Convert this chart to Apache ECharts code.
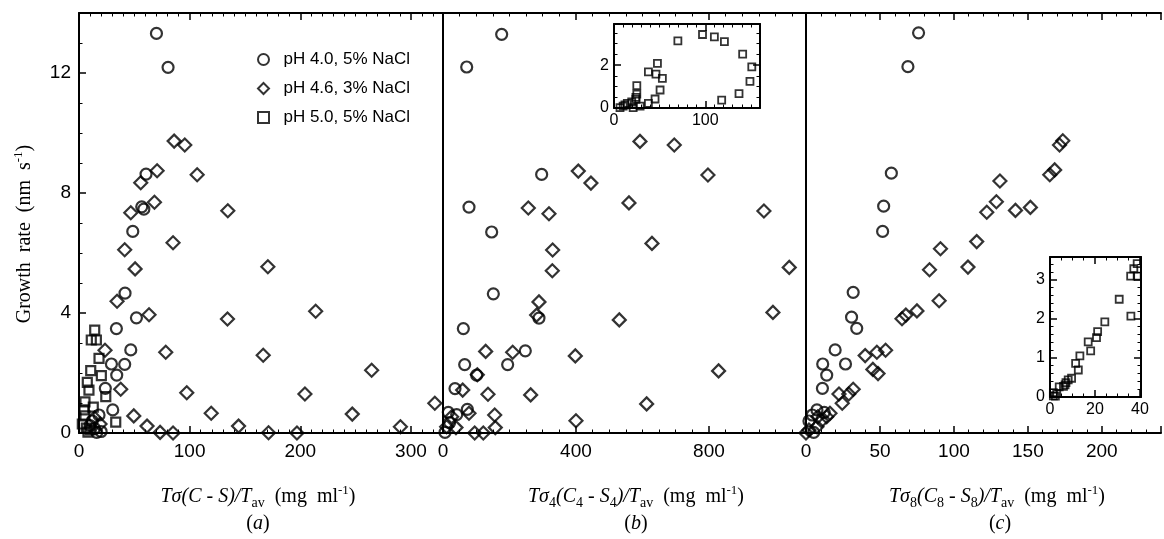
<!DOCTYPE html>
<html>
<head>
<meta charset="utf-8">
<script src="https://cdn.jsdelivr.net/npm/echarts@6/dist/echarts.min.js"></script>
<style>
html,body{margin:0;padding:0;background:#fff;}
#chart{width:1164px;height:539px;}
</style>
</head>
<body>
<div id="chart"></div>
<script>
const seriesNames = ["pH 4.0, 5% NaCl", "pH 4.6, 3% NaCl", "pH 5.0, 5% NaCl"];

// panel (a): T sigma (C - S) / Tav
const aCircles = [[70,13.32],[80.5,12.19],[60.6,8.63],[56.7,7.54],[58.6,7.46],[48.6,6.72],[41.6,4.66],[51.9,3.84],[33.8,3.48],[46.8,2.77],[41.3,2.29],[29.3,2.3],[34.1,1.93],[23.8,1.49],[30.5,0.77],[18.1,0.6],[16,0.02],[12,0.4],[14,0.15],[10,0.25],[20,0.05]];
const aDiamonds = [[86,9.73],[95.6,9.6],[70.6,8.74],[106.8,8.61],[55.8,8.34],[68.2,7.69],[134.5,7.41],[46.8,7.34],[85,6.34],[41.3,6.11],[170.7,5.54],[50.7,5.47],[34.4,4.39],[63.3,3.94],[213.9,4.06],[134.2,3.8],[78.4,2.69],[166.5,2.59],[264.5,2.09],[23.5,2.76],[37.7,1.46],[97.4,1.34],[204.2,1.3],[321.6,0.99],[49.5,0.57],[119.5,0.66],[247,0.63],[61.5,0.23],[144.2,0.23],[290.5,0.21],[73.3,0.02],[85,0],[171.3,0.01],[197,0],[14,0.5],[19,0.3]];
const aSquares = [[14.2,3.43],[15.7,3.1],[11.1,3.1],[18.1,2.49],[10.6,2.08],[20.2,1.91],[7.5,1.69],[9,1.43],[24.2,1.21],[5.4,1.04],[4.5,0.77],[12.9,0.86],[33.2,0.36],[5.4,0.57],[6.6,0.16],[8.1,0.03],[3,0.3],[10,0.1]];

// panel (b): T sigma4 (C4 - S4) / Tav
const bCircles = [[176.5,13.29],[71.3,12.2],[296.8,8.62],[78.2,7.53],[146.4,6.7],[151.4,4.64],[288.7,3.83],[61.2,3.48],[247.6,2.74],[65.2,2.28],[194.5,2.28],[101.2,1.93],[36.1,1.48],[73.2,0.79],[41.1,0.61],[16,0.69],[6,0.02],[20,0.35]];
const bDiamonds = [[592.5,9.72],[695.7,9.6],[407,8.73],[797,8.6],[445,8.33],[559.4,7.67],[256.6,7.5],[318.8,7.31],[965.4,7.4],[628.6,6.32],[329.8,6.1],[328.8,5.41],[1041.6,5.52],[288.7,4.37],[281.7,3.93],[992.5,4.02],[530.3,3.77],[128.3,2.72],[209.6,2.69],[398,2.57],[103.2,1.94],[829,2.07],[59.2,1.43],[135.3,1.29],[263.7,1.27],[612.6,0.97],[78.2,0.66],[155.5,0.6],[26,0.54],[400,0.41],[157.3,0.18],[39,0.18],[95.3,0],[121.2,0],[11,0.21]];
const bInsetSquares = [[70,3.13],[97,3.43],[110,3.32],[121,3.1],[141,2.51],[151,1.92],[149,1.24],[137,0.67],[118,0.37],[47.6,2.08],[37.7,1.69],[46,1.58],[53,1.38],[50.5,0.84],[45,0.42],[37.7,0.22],[25,1.04],[25,0.65],[24,0.4],[19.4,0.28],[28.6,0.09],[21,0.02],[14.6,0.22],[10,0.09],[6.6,0.02],[12,0.15],[24,0.5]];

// panel (c): T sigma8 (C8 - S8) / Tav
const cCircles = [[76.1,13.34],[68.9,12.21],[57.7,8.66],[52.5,7.56],[51.8,6.72],[31.9,4.69],[30.8,3.86],[34.3,3.49],[19.7,2.77],[26.7,2.3],[11.3,2.3],[14,1.93],[11.1,1.49],[7.4,0.77],[12.3,0.69],[4.2,0.6],[5.2,0.02],[2,0.4]];
const cDiamonds = [[173.6,9.74],[171.4,9.6],[168.1,8.77],[164.8,8.61],[131.1,8.4],[128.7,7.71],[122.2,7.36],[141.6,7.42],[151.7,7.52],[115.4,6.38],[90.9,6.14],[83.5,5.44],[109.5,5.53],[90,4.41],[75,4.07],[67.5,3.93],[64.9,3.81],[40,2.58],[47.9,2.69],[53.8,2.76],[45.2,2.12],[48.7,1.98],[31.9,1.46],[28.9,1.3],[22.3,1.3],[24.5,0.99],[16.2,0.66],[14,0.54],[8,0.54],[10.5,0.41],[7.4,0.21],[2,0.1],[0,0]];
const cInsetSquares = [[38.8,3.41],[37.3,3.28],[35.9,3.09],[38.8,3.09],[30.8,2.5],[36,2.07],[24.4,1.92],[21.2,1.67],[20.7,1.52],[17,1.41],[18.1,1.18],[13.3,1.05],[11.4,0.86],[12.6,0.69],[9.6,0.48],[8.1,0.44],[7.1,0.37],[6.7,0.31],[6,0.27],[4.1,0.26],[3,0.09],[1.5,0.03],[2.4,0.02],[1.5,0.11]];

const aTicks = [0, 100, 200, 300];
const bTicks = [0, 400, 800];
const cTicks = [0, 50, 100, 150, 200];
const yTicks = [0, 4, 8, 12];

const chart = echarts.init(document.getElementById("chart"));

const LINE = { color: "#000", width: 2 };
const onlyIn = list => v => (list.indexOf(Math.round(v * 1000) / 1000) >= 0 ? String(v) : "");

function xAx(grid, min, max, interval, split, labels, pos, fontSize) {
  return {
    type: "value", gridIndex: grid, position: pos, min, max, interval,
    axisLine: { show: true, lineStyle: LINE, onZero: false },
    axisTick: { show: true, inside: true, length: 7, lineStyle: { color: "#000", width: 1.5 } },
    minorTick: { show: true, splitNumber: split, length: 3.5, lineStyle: { color: "#000", width: 1 } },
    axisLabel: labels
      ? { show: true, formatter: onlyIn(labels), margin: fontSize > 16 ? 9 : 5, color: "#000",
          fontFamily: "Liberation Sans", fontSize: fontSize }
      : { show: false },
    splitLine: { show: false }
  };
}

function yAx(grid, min, max, interval, split, labels, pos, ticks, fontSize) {
  return {
    type: "value", gridIndex: grid, position: pos, min, max, interval,
    axisLine: { show: true, lineStyle: LINE, onZero: false },
    axisTick: { show: ticks, inside: true, length: 7, lineStyle: { color: "#000", width: 1.5 } },
    minorTick: { show: ticks, splitNumber: split, length: 3.5, lineStyle: { color: "#000", width: 1 } },
    axisLabel: labels
      ? { show: true, formatter: onlyIn(labels), margin: fontSize > 16 ? 8 : 5, color: "#000",
          fontFamily: "Liberation Sans", fontSize: fontSize }
      : { show: false },
    splitLine: { show: false }
  };
}

function sc(name, data, symbol, size, xi, yi, bw) {
  return {
    type: "scatter", name, data, symbol, symbolSize: size,
    xAxisIndex: xi, yAxisIndex: yi, clip: false, z: 5, silent: true,
    itemStyle: { color: "rgba(0,0,0,0)", borderColor: "#000", borderWidth: bw },
    emphasis: { disabled: true }
  };
}

const serif = "Liberation Serif";
const rich = {
  i: { fontFamily: serif, fontStyle: "italic", fontSize: 20, color: "#000", lineHeight: 26, verticalAlign: "middle" },
  r: { fontFamily: serif, fontSize: 20, color: "#000", lineHeight: 26, verticalAlign: "middle" },
  s: { fontFamily: serif, fontSize: 14, color: "#000", lineHeight: 14, verticalAlign: "bottom" },
  p: { fontFamily: serif, fontSize: 13, color: "#000", lineHeight: 13, verticalAlign: "top" }
};

function label(x, y, text, rot) {
  return {
    type: "text", x, y, rotation: rot || 0, silent: true,
    style: { text, rich, align: "center", verticalAlign: "middle" }
  };
}

const option = {
  animation: false,
  backgroundColor: "#fff",
  grid: [
    { left: 79, top: 13, width: 364, height: 420 },
    { left: 443, top: 13, width: 363, height: 420 },
    { left: 806, top: 13, width: 366, height: 420 },
    { left: 614, top: 24, width: 146, height: 84, show: true, backgroundColor: "#fff", borderWidth: 0 },
    { left: 1050, top: 257, width: 91, height: 140, show: true, backgroundColor: "#fff", borderWidth: 0 }
  ],
  xAxis: [
    xAx(0, 0, 329, 100, 10, aTicks, "bottom", 19),
    xAx(1, 0, 1092, 400, 8, bTicks, "bottom", 19),
    xAx(2, 0, 240, 50, 5, cTicks, "bottom", 19),
    xAx(3, 0, 160, 100, 10, [0, 100], "bottom", 16),
    xAx(4, 0, 40.5, 20, 4, [0, 20, 40], "bottom", 16),
    xAx(0, 0, 329, 100, 10, null, "top"),
    xAx(1, 0, 1092, 400, 8, null, "top"),
    xAx(2, 0, 240, 50, 5, null, "top"),
    xAx(3, 0, 160, 100, 10, null, "top"),
    xAx(4, 0, 40.5, 20, 4, null, "top")
  ],
  yAxis: [
    yAx(0, 0, 14, 4, 4, yTicks, "left", true, 19),
    yAx(1, 0, 14, 4, 4, null, "left", false),
    yAx(2, 0, 14, 4, 4, null, "left", false),
    yAx(3, 0, 3.92, 2, 4, [0, 2], "left", true, 16),
    yAx(4, 0, 3.58, 1, 5, [0, 1, 2, 3], "left", true, 16),
    yAx(3, 0, 3.92, 2, 4, null, "right", true),
    yAx(4, 0, 3.58, 1, 5, null, "right", true)
  ],
  legend: {
    orient: "vertical", left: 252, top: 46, itemWidth: 11, itemHeight: 11, itemGap: 12,
    selectedMode: false,
    formatter: name => "  " + name,
    textStyle: { fontFamily: "Liberation Sans", fontSize: 17, color: "#000" },
    itemStyle: { color: "rgba(0,0,0,0)", borderColor: "#000", borderWidth: 2 },
    data: [
      { name: seriesNames[0], icon: "circle" },
      { name: seriesNames[1], icon: "diamond" },
      { name: seriesNames[2], icon: "rect" }
    ]
  },
  graphic: [
    label(25, 234, "{r|Growth  rate  (nm  s}{p|-1}{r|)}", Math.PI / 2),
    label(258, 497, "{i|Tσ(C - S)/T}{s|av}{r|  (mg  ml}{p|-1}{r|)}"),
    label(636, 497, "{i|Tσ}{s|4}{i|(C}{s|4}{i| - S}{s|4}{i|)/T}{s|av}{r|  (mg  ml}{p|-1}{r|)}"),
    label(997, 497, "{i|Tσ}{s|8}{i|(C}{s|8}{i| - S}{s|8}{i|)/T}{s|av}{r|  (mg  ml}{p|-1}{r|)}"),
    label(258, 524, "{r|(}{i|a}{r|)}"),
    label(636, 524, "{r|(}{i|b}{r|)}"),
    label(1000, 524, "{r|(}{i|c}{r|)}")
  ],
  series: [
    sc(seriesNames[0], aCircles, "circle", 11, 0, 0, 2.2),
    sc(seriesNames[1], aDiamonds, "diamond", 13, 0, 0, 2.2),
    sc(seriesNames[2], aSquares, "rect", 9, 0, 0, 2.2),
    sc(seriesNames[0], bCircles, "circle", 11, 1, 1, 2.2),
    sc(seriesNames[1], bDiamonds, "diamond", 13, 1, 1, 2.2),
    sc(seriesNames[2], bInsetSquares, "rect", 7, 3, 3, 1.8),
    sc(seriesNames[0], cCircles, "circle", 11, 2, 2, 2.2),
    sc(seriesNames[1], cDiamonds, "diamond", 13, 2, 2, 2.2),
    sc(seriesNames[2], cInsetSquares, "rect", 7, 4, 4, 1.8)
  ]
};

chart.setOption(option);
</script>
</body>
</html>
